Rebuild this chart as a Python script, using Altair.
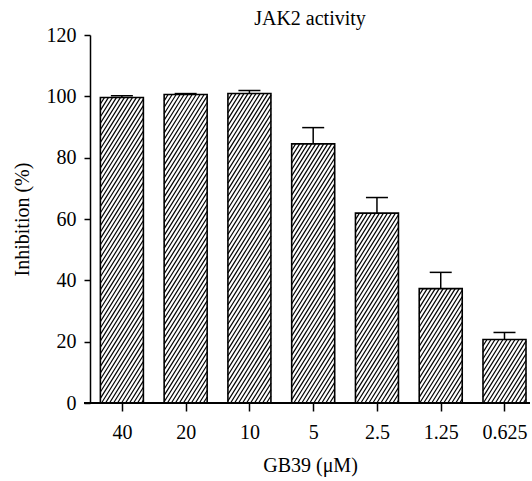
import json
import math
import altair as alt
import pandas as pd

# ---- data ----
conc = ["40", "20", "10", "5", "2.5", "1.25", "0.625"]
inhibition = [99.6, 100.6, 100.9, 84.5, 61.9, 37.3, 20.7]
sem = [0.6, 0.3, 1.0, 5.3, 5.1, 5.3, 2.3]

FONT = "Liberation Serif"
W, H = 440, 368
X_LO, X_HI = -0.5, 6.4
Y_LO, Y_HI = 0, 120
pxx = W / (X_HI - X_LO)
pxy = H / (Y_HI - Y_LO)
BAR_PX = 43
CAP_PX = 11
half = (BAR_PX / 2) / pxx
cap = CAP_PX / pxx

bars = pd.DataFrame({"i": list(range(len(conc))), "conc": conc, "v": inhibition, "e": sem})
bars["x0"] = bars["i"] - half
bars["x1"] = bars["i"] + half
bars["base"] = 0.0
bars["top"] = bars["v"] + bars["e"]
bars["c0"] = bars["i"] - cap
bars["c1"] = bars["i"] + cap

# hatch segments (diagonal lines clipped to each bar), derived from the bar values
ANGLE = 58
SPACING = 4.0
cot = 1 / math.tan(math.radians(ANGLE))
rows = []
for i, v in zip(bars["i"], bars["v"]):
    Hb = v * pxy
    t = -Hb * cot
    while t < BAR_PX:
        ylo = max(0.0, -t / cot)
        yhi = min(Hb, (BAR_PX - t) / cot)
        if yhi > ylo:
            xa = t + ylo * cot
            xb = t + yhi * cot
            rows.append({
                "hx0": i - half + xa / pxx, "hx1": i - half + xb / pxx,
                "hy0": ylo / pxy, "hy1": yhi / pxy,
            })
        t += SPACING
hatch = pd.DataFrame(rows)

xs = alt.Scale(domain=[X_LO, X_HI], nice=False, zero=False)
ys = alt.Scale(domain=[Y_LO, Y_HI], nice=False, zero=False)

label_expr = json.dumps(conc) + "[datum.value]"

AX_X = alt.Axis(
    values=list(range(len(conc))), labelExpr=label_expr, tickSize=8, tickWidth=1.5,
    domain=False, labelFontSize=20, labelPadding=11, title="GB39 (μM)",
    titleFontSize=20, titleFontWeight="normal", titlePadding=13)
AX_Y = alt.Axis(
    values=[0, 20, 40, 60, 80, 100, 120], tickSize=6, tickWidth=1.5, domainWidth=1.5,
    labelFontSize=20, labelPadding=8, title="Inhibition (%)", titleFontSize=20,
    titleFontWeight="normal", titlePadding=14)


def X(f):
    return alt.X(f, scale=xs, axis=AX_X)


def Y(f):
    return alt.Y(f, scale=ys, axis=AX_Y)


fill = alt.Chart(bars).mark_rect(fill="white", strokeWidth=0).encode(
    x=X("x0:Q"), x2="x1:Q", y=Y("v:Q"), y2="base:Q",
)

hatch_layer = alt.Chart(hatch).mark_rule(color="black", strokeWidth=1.2).encode(
    x=X("hx0:Q"), x2="hx1:Q", y=Y("hy0:Q"), y2="hy1:Q",
)

outline = alt.Chart(bars).mark_rect(fill="white", fillOpacity=0, stroke="black", strokeWidth=1.6).encode(
    x=X("x0:Q"), x2="x1:Q", y=Y("v:Q"), y2="base:Q",
)

err = alt.Chart(bars).mark_rule(color="black", strokeWidth=1.5).encode(
    x=X("i:Q"), y=Y("v:Q"), y2="top:Q",
)
err_cap = alt.Chart(bars).mark_rule(color="black", strokeWidth=1.5).encode(
    x=X("c0:Q"), x2="c1:Q", y=Y("top:Q"),
)

x_line = alt.Chart(bars).mark_rule(color="black", strokeWidth=1.5).encode(
    x=alt.value(-6), x2=alt.value(W), y=alt.value(H),
)

chart = alt.layer(fill, hatch_layer, outline, err, err_cap, x_line).properties(
    width=W, height=H,
    autosize="none",
    padding={"left": 90, "top": 35, "right": 2, "bottom": 78},
    title=alt.TitleParams("JAK2 activity", font=FONT, fontSize=20, fontWeight="normal",
                          color="black", anchor="middle", offset=-4),
).configure_axis(
    grid=False, domainColor="black", tickColor="black", labelColor="black",
    titleColor="black", labelFont=FONT, titleFont=FONT,
).configure_view(stroke=None)

chart.save("out.html", embed_options={"renderer": "svg", "actions": False})
